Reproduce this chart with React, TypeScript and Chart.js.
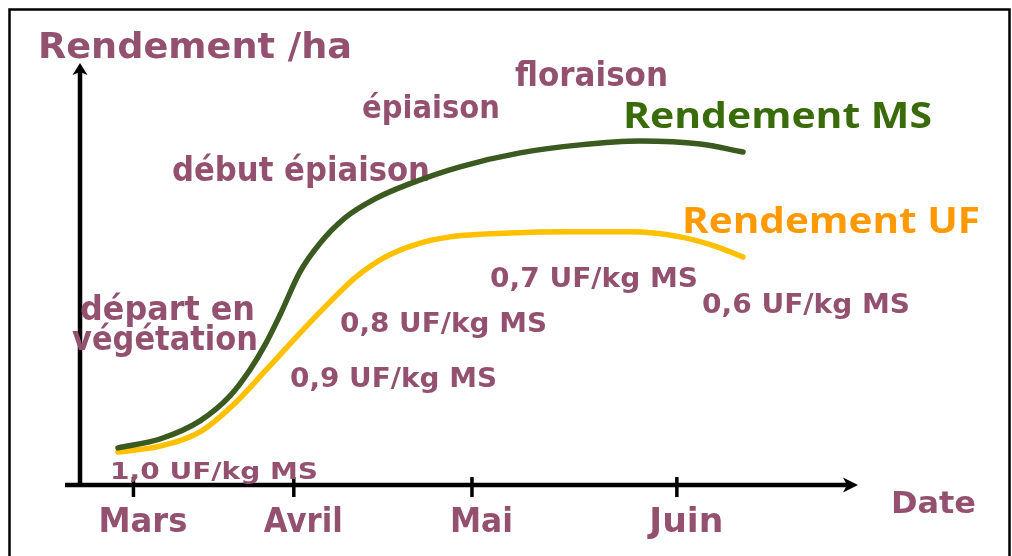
import React, { useEffect, useRef } from "react";
import { Chart, registerables } from "chart.js";

Chart.register(...registerables);

// ---- Data (days from 1 March, yield in arbitrary units) ----
const daysMS = [-2.6, 4.47, 11.21, 16.26, 19.62, 22.15, 24.68, 28.04, 31.41, 35.62, 40.67, 46.56, 54.98, 65.09, 75.19, 85.29, 95.4, 102.64];
const rendementMS = [0.88, 1.09, 1.52, 2.11, 2.73, 3.32, 4.03, 5.05, 5.73, 6.33, 6.78, 7.14, 7.54, 7.87, 8.06, 8.15, 8.08, 7.89];

const daysUF = [-2.6, 4.47, 11.21, 17.1, 22.49, 28.04, 33.09, 37.3, 42.36, 47.74, 53.3, 63.4, 73.51, 83.61, 92.03, 97.92, 102.64];
const rendementUF = [0.78, 0.92, 1.26, 1.94, 2.75, 3.6, 4.34, 4.91, 5.4, 5.71, 5.88, 5.97, 6.0, 6.0, 5.88, 5.66, 5.4];

const monthLabels = ["Mars", "Avril", "Mai", "Juin"];
const monthDays = [0, 27, 57, 91.5];

const seriesNames = ["Rendement MS", "Rendement UF"];
const yAxisTitle = "Rendement /ha";
const xAxisTitle = "Date";
const stageLabels = ["floraison", "épiaison", "début épiaison", "départ en", "végétation"];
const ufLabels = ["1,0 UF/kg MS", "0,9 UF/kg MS", "0,8 UF/kg MS", "0,7 UF/kg MS", "0,6 UF/kg MS"];

// ---- Layout / style (pixels) ----
const PURPLE = "#94506F";
const MS_COLOR = "#3B5A1F";
const UF_COLOR = "#FFC000";
const MS_TEXT = "#3A6B0B";
const UF_TEXT = "#FF9900";
const HAND_FONT = "'DejaVu Sans'";
const HAND_CAP = 0.729;
const SANS_FONT = "'Open Sans'";
const SANS_CAP = 0.714;

type TextBox = { text: string; x0: number; x1: number; base: number; cap: number };

const textBoxes: TextBox[] = [
  { text: yAxisTitle, x0: 38, x1: 352, base: 58, cap: 26 },
  { text: stageLabels[0], x0: 515, x1: 668, base: 86, cap: 24 },
  { text: stageLabels[1], x0: 362, x1: 500, base: 118, cap: 23 },
  { text: stageLabels[2], x0: 172, x1: 430, base: 181, cap: 25 },
  { text: stageLabels[3], x0: 80, x1: 255, base: 320, cap: 25 },
  { text: stageLabels[4], x0: 72, x1: 258, base: 350, cap: 25 },
  { text: ufLabels[0], x0: 110, x1: 318, base: 479, cap: 17 },
  { text: ufLabels[1], x0: 290, x1: 497, base: 387, cap: 20 },
  { text: ufLabels[2], x0: 340, x1: 547, base: 332, cap: 20 },
  { text: ufLabels[3], x0: 490, x1: 698, base: 287, cap: 19 },
  { text: ufLabels[4], x0: 702, x1: 910, base: 313, cap: 20 },
  { text: xAxisTitle, x0: 891, x1: 976, base: 513, cap: 22 },
];
const seriesBoxes: TextBox[] = [
  { text: seriesNames[0], x0: 623, x1: 932, base: 128, cap: 26 },
  { text: seriesNames[1], x0: 682, x1: 980, base: 233, cap: 26 },
];
const monthWidths = [89, 79, 63, 74];
const monthOffset = 9.5;

function fitText(
  ctx: CanvasRenderingContext2D,
  b: TextBox,
  family: string,
  capRatio: number,
  color: string
) {
  const size = b.cap / capRatio;
  ctx.font = `bold ${size}px ${family}`;
  const w = ctx.measureText(b.text).width;
  const sx = (b.x1 - b.x0) / w;
  ctx.save();
  ctx.translate(b.x0, b.base);
  ctx.scale(sx, 1);
  ctx.fillStyle = color;
  ctx.textAlign = "left";
  ctx.textBaseline = "alphabetic";
  ctx.fillText(b.text, 0, 0);
  ctx.restore();
}

const decorPlugin = {
  id: "decor",
  beforeDatasetsDraw(chart: any) {
    const ctx: CanvasRenderingContext2D = chart.ctx;
    const area = chart.chartArea;
    const xs = chart.scales.x;
    ctx.save();
    // frame
    ctx.strokeStyle = "#000";
    ctx.lineWidth = 2.5;
    ctx.strokeRect(9.5, 9.5, 1000, 620);

    // y axis
    ctx.lineWidth = 4.5;
    ctx.beginPath();
    ctx.moveTo(area.left, area.bottom + 2);
    ctx.lineTo(area.left, area.top + 8);
    ctx.stroke();
    ctx.fillStyle = "#000";
    ctx.beginPath();
    ctx.moveTo(area.left, area.top);
    ctx.lineTo(area.left - 7.5, area.top + 12);
    ctx.lineTo(area.left, area.top + 9);
    ctx.lineTo(area.left + 7.5, area.top + 12);
    ctx.closePath();
    ctx.fill();

    // x axis
    ctx.beginPath();
    ctx.moveTo(area.left - 15, area.bottom);
    ctx.lineTo(area.right - 8, area.bottom);
    ctx.stroke();
    ctx.beginPath();
    ctx.moveTo(area.right, area.bottom);
    ctx.lineTo(area.right - 15, area.bottom - 7.5);
    ctx.lineTo(area.right - 11, area.bottom);
    ctx.lineTo(area.right - 15, area.bottom + 7.5);
    ctx.closePath();
    ctx.fill();

    // ticks + month labels
    ctx.lineWidth = 3.5;
    monthDays.forEach((d, i) => {
      const px = xs.getPixelForValue(d);
      ctx.beginPath();
      ctx.moveTo(px, area.bottom - 8);
      ctx.lineTo(px, area.bottom + 12);
      ctx.stroke();
      const c = px + monthOffset;
      fitText(
        ctx,
        { text: monthLabels[i], x0: c - monthWidths[i] / 2, x1: c + monthWidths[i] / 2, base: 532, cap: 24 },
        HAND_FONT,
        HAND_CAP,
        PURPLE
      );
    });

    textBoxes.forEach((b) => fitText(ctx, b, HAND_FONT, HAND_CAP, PURPLE));
    fitText(ctx, seriesBoxes[0], SANS_FONT, SANS_CAP, MS_TEXT);
    fitText(ctx, seriesBoxes[1], SANS_FONT, SANS_CAP, UF_TEXT);
    ctx.restore();
  },
};

export default function App() {
  const ref = useRef<HTMLCanvasElement | null>(null);
  useEffect(() => {
    if (!ref.current) return;
    const chart = new Chart(ref.current, {
      type: "line",
      data: {
        datasets: [
          {
            label: seriesNames[0],
            data: daysMS.map((d, i) => ({ x: d, y: rendementMS[i] })),
            borderColor: MS_COLOR,
            borderWidth: 5.5,
            pointRadius: 0,
            cubicInterpolationMode: "monotone",
            borderCapStyle: "round",
            borderJoinStyle: "round",
            fill: false,
          },
          {
            label: seriesNames[1],
            data: daysUF.map((d, i) => ({ x: d, y: rendementUF[i] })),
            borderColor: UF_COLOR,
            borderWidth: 5.5,
            pointRadius: 0,
            cubicInterpolationMode: "monotone",
            borderCapStyle: "round",
            borderJoinStyle: "round",
            fill: false,
          },
        ],
      },
      options: {
        animation: false,
        responsive: false,
        devicePixelRatio: 1,
        layout: { padding: { left: 80, right: 154, top: 63, bottom: 71 } },
        plugins: { legend: { display: false }, tooltip: { enabled: false } },
        scales: {
          x: { type: "linear", min: -9, max: 122, display: false },
          y: { type: "linear", min: 0, max: 10, display: false },
        },
      },
      plugins: [decorPlugin],
    });
    return () => chart.destroy();
  }, []);
  return (
    <div style={{ position: "fixed", left: 0, top: 0, width: 1012, height: 556, background: "#fff" }}>
      <canvas ref={ref} width={1012} height={556} style={{ display: "block" }} />
    </div>
  );
}
